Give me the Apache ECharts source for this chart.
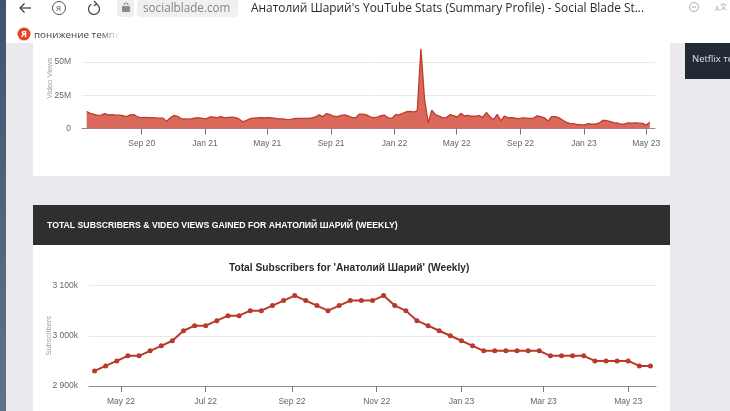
<!DOCTYPE html>
<html>
<head>
<meta charset="utf-8">
<title>Social Blade</title>
<script src="https://cdn.jsdelivr.net/npm/echarts@6/dist/echarts.min.js"></script>
<style>
  html, body { margin: 0; padding: 0; background: #eae9ee; overflow: hidden; }
  /* the reference is a soft, rescaled screenshot */
  #chart { width: 730px; height: 411px; filter: blur(0.35px); }
</style>
</head>
<body>
<div id="chart"></div>
<script>
// weekly video views, millions
const viewValues = [
  12.8, 11.4, 10.6, 9.8, 10, 11.2, 10.2, 10.4, 10, 10, 9.6, 9, 10.2, 10.4, 8.8, 8.2,
  8.4, 8.2, 8.2, 8, 7.8, 7.8, 5.4, 8, 9.8, 9.2, 7.4, 7.2, 7, 7.4, 8, 8,
  7.6, 7.4, 8.8, 8.6, 8.2, 9, 8, 8.4, 8.6, 8.2, 7, 5, 6.2, 7.4, 7.8, 8,
  8.2, 8, 8.2, 8, 7.6, 7.2, 7.2, 6.8, 6.6, 7.4, 7.6, 7.6, 7.6, 7.6, 8, 8.8,
  10.2, 9, 11.2, 10.4, 9.2, 9, 9.8, 10.2, 9.4, 8.4, 8, 10.8, 10.8, 10.2, 8.8, 8.2,
  8.6, 9.6, 10, 8, 7.6, 10.4, 10.2, 11.4, 12.6, 12.8, 12.4, 13.5, 60, 22, 4.2, 13.8,
  10.4, 9.4, 8, 8.2, 10.4, 9.6, 8.6, 11.4, 9.4, 9.8, 9.2, 9.2, 9.8, 8.4, 12, 8.8,
  6.6, 10.6, 5.8, 9.4, 8, 8.2, 7.7, 7.4, 8, 7.8, 7.6, 7.8, 9.5, 9, 8, 5.6,
  9, 9, 8, 6.4, 4.6, 3.8, 3.6, 3, 2.8, 2.8, 3.6, 3.2, 3.2, 4, 6, 6,
  5.4, 4.4, 4.2, 3.2, 3.4, 4.2, 4, 4.2, 4, 3.8, 2.6, 4.6
];
const viewStart = '2020-05-18';
const viewStepDays = 7;
const viewTickDates = ['2020-09-01', '2021-01-01', '2021-05-01', '2021-09-01', '2022-01-01', '2022-05-01', '2022-09-01', '2023-01-01', '2023-05-01'];
const viewTickLabels = ['Sep 20', 'Jan 21', 'May 21', 'Sep 21', 'Jan 22', 'May 22', 'Sep 22', 'Jan 23', 'May 23'];

// total subscribers, thousands
const subValues = [
  2930, 2940, 2950, 2960, 2960, 2970, 2980, 2990, 3010, 3020, 3020, 3030, 3040, 3040, 3050, 3050, 3060,
  3070, 3080, 3070, 3060, 3050, 3060, 3070, 3070, 3070, 3080, 3060, 3050, 3030, 3020, 3010, 3000, 2990,
  2980, 2970, 2970, 2970, 2970, 2970, 2970, 2960, 2960, 2960, 2960, 2950, 2950, 2950, 2950, 2940, 2940
];
const subStart = '2022-04-12';
const subStepDays = 8;
const subTickDates = ['2022-05-01', '2022-07-01', '2022-09-01', '2022-11-01', '2023-01-01', '2023-03-01', '2023-05-01'];
const subTickLabels = ['May 22', 'Jul 22', 'Sep 22', 'Nov 22', 'Jan 23', 'Mar 23', 'May 23'];

const DAY = 86400000;
const ts = (d) => Date.parse(d + 'T00:00:00Z');
const weekly = (values, start, step) => values.map((v, i) => [ts(start) + i * step * DAY, v]);

const font = 'Liberation Sans';
const uiFont = 'Open Sans';

// value axis over timestamps, so the month ticks can sit where the picture has them
function dateAxis(gridIndex, min, max, dates, labels) {
  const ticks = dates.map(ts);
  return {
    type: 'value',
    gridIndex: gridIndex,
    min: ts(min),
    max: ts(max),
    splitLine: { show: false },
    axisLine: { show: true, onZero: false, lineStyle: { color: '#8f8f8f', width: 1 } },
    axisTick: { show: true, length: 6, customValues: ticks, lineStyle: { color: '#777' } },
    axisLabel: {
      show: true,
      customValues: ticks,
      margin: 11,
      color: '#666',
      fontFamily: font,
      fontSize: 8.5,
      formatter: (v) => labels[ticks.indexOf(+v)] || ''
    }
  };
}

function valueAxis(gridIndex, name, min, max, interval, fmt, nameGap, namePadding) {
  return {
    type: 'value',
    gridIndex: gridIndex,
    min: min,
    max: max,
    interval: interval,
    name: name,
    nameLocation: 'middle',
    nameGap: nameGap,
    nameMoveOverlap: false,
    nameTextStyle: { color: '#a0a0a0', fontFamily: font, fontSize: 7.5, padding: namePadding },
    axisLine: { show: false },
    axisTick: { show: false },
    splitLine: { lineStyle: { color: '#e9e9e9', width: 1 } },
    axisLabel: { color: '#666', fontFamily: font, fontSize: 8.5, margin: 11, formatter: fmt }
  };
}

const rect = (x, y, width, height, fill, r) => ({
  type: 'rect', z: -5, silent: true,
  shape: { x, y, width, height, r: r || 0 },
  style: { fill }
});
const label = (x, y, text, fill, size, family, weight) => ({
  type: 'text', z: -1, silent: true, x, y,
  style: { text, fill, font: (weight || 'normal') + ' ' + size + 'px "' + (family || uiFont) + '"', textVerticalAlign: 'middle' }
});
const stroke = (points, color, width) => ({
  type: 'polyline', z: -1, silent: true,
  shape: { points },
  style: { fill: 'none', stroke: color, lineWidth: width || 1.2 }
});
const ring = (cx, cy, r, color) => ({
  type: 'circle', z: -1, silent: true,
  shape: { cx, cy, r },
  style: { fill: 'none', stroke: color, lineWidth: 1 }
});
const arc = (cx, cy, r, startAngle, endAngle, color) => ({
  type: 'arc', z: -1, silent: true,
  shape: { cx, cy, r, startAngle, endAngle },
  style: { fill: 'none', stroke: color, lineWidth: 1.2 }
});

const backdrop = [
  rect(0, 0, 730, 411, '#eae9ee'),
  { type: 'rect', z: -4, silent: true, shape: { x: 0, y: 0, width: 6, height: 411 },
    style: { fill: new echarts.graphic.LinearGradient(0, 0, 0, 1, [{ offset: 0, color: '#3d5570' }, { offset: 1, color: '#5d7488' }]) } },
  rect(6, 0, 724, 43, '#ffffff'),
  rect(33, 43, 637, 133, '#ffffff'),
  rect(33, 245, 637, 166, '#ffffff'),
  rect(33, 205, 637, 40, '#2f2f2f'),
  rect(685, 43, 45, 36, '#212a35'),
  rect(117, -3, 17, 20, '#eeeef0', 4),
  rect(137, -3, 101, 20, '#f0f0f2', 4),
  // chrome icons
  stroke([[31, 8], [20, 8]], '#333'),
  stroke([[24.5, 3.5], [20, 8], [24.5, 12.5]], '#333'),
  ring(59, 8, 6.5, '#555'),
  arc(94, 9, 5.5, -1.2, 4.2, '#444'),
  stroke([[94, 1], [96.5, 3.5], [94, 6]], '#444'),
  rect(122, 6, 8, 6, '#8a8a8e', 1),
  arc(126, 5, 2, Math.PI, 0, '#8a8a8e'),
  ring(694, 7, 4.5, '#aaa'),
  stroke([[692, 7], [696, 7]], '#aaa', 1),
  { type: 'circle', z: -1, silent: true, shape: { cx: 24, cy: 34, r: 6.5 }, style: { fill: '#e8411f' } },
  label(21, 34, 'Я', '#ffffff', 9, uiFont, 'bold'),
  label(56, 8.5, 'Я', '#555555', 8, uiFont),
  label(143, 9, 'socialblade.com', '#86868a', 11.7),
  label(251, 8.5, "Анатолий Шарий's YouTube Stats (Summary Profile) - Social Blade St...", '#2a2a2a', 11.9),
  label(34, 35, 'понижение темпе', '#444444', 9.8),
  { type: 'rect', z: 0, silent: true, shape: { x: 100, y: 28, width: 20, height: 14 },
    style: { fill: new echarts.graphic.LinearGradient(0, 0, 1, 0, [{ offset: 0, color: 'rgba(255,255,255,0)' }, { offset: 1, color: '#ffffff' }]) } },
  label(715, 9, 'A', '#aaaaaa', 7),
  label(720, 6, '文', '#aaaaaa', 7, 'Noto Sans CJK SC'),
  label(692, 59, 'Netflix те', '#dfe3e6', 9.5),
  label(47, 225.5, 'TOTAL SUBSCRIBERS & VIDEO VIEWS GAINED FOR АНАТОЛИЙ ШАРИЙ (WEEKLY)', '#ffffff', 8.7, font, 'bold'),
  label(229, 268, "Total Subscribers for 'Анатолий Шарий' (Weekly)", '#2a2a2a', 10.2, font, 'bold')
];

const chart = echarts.init(document.getElementById('chart'), null, { renderer: 'canvas' });
chart.setOption({
  animation: false,
  backgroundColor: 'transparent',
  graphic: { elements: backdrop },
  grid: [
    { left: 82, width: 573, top: 62, height: 66.5 },
    { left: 89, width: 567, top: 285.5, height: 100.5 }
  ],
  xAxis: [
    dateAxis(0, '2020-05-09', '2023-05-18', viewTickDates, viewTickLabels),
    dateAxis(1, '2022-04-08', '2023-05-21', subTickDates, subTickLabels)
  ],
  yAxis: [
    valueAxis(0, 'Video Views', 0, 50, 25, (v) => (v ? v + 'M' : '0'), 28, [0, 0, 0, 34]),
    valueAxis(1, 'Subscribers', 2900, 3100, 100, (v) => String(v).replace(/(\d)(\d{3})$/, '$1 $2') + 'k', 36, 0)
  ],
  series: [
    {
      type: 'line',
      xAxisIndex: 0,
      yAxisIndex: 0,
      data: weekly(viewValues, viewStart, viewStepDays),
      clip: false,
      showSymbol: false,
      smooth: false,
      lineStyle: { color: '#c23a2a', width: 1.3 },
      areaStyle: { color: '#d9695a', opacity: 1 }
    },
    {
      type: 'line',
      xAxisIndex: 1,
      yAxisIndex: 1,
      data: weekly(subValues, subStart, subStepDays),
      symbol: 'circle',
      symbolSize: 5,
      showSymbol: true,
      showAllSymbol: true,
      lineStyle: { color: '#b83a2a', width: 2 },
      itemStyle: { color: '#b83a2a' }
    }
  ]
});
</script>
</body>
</html>
